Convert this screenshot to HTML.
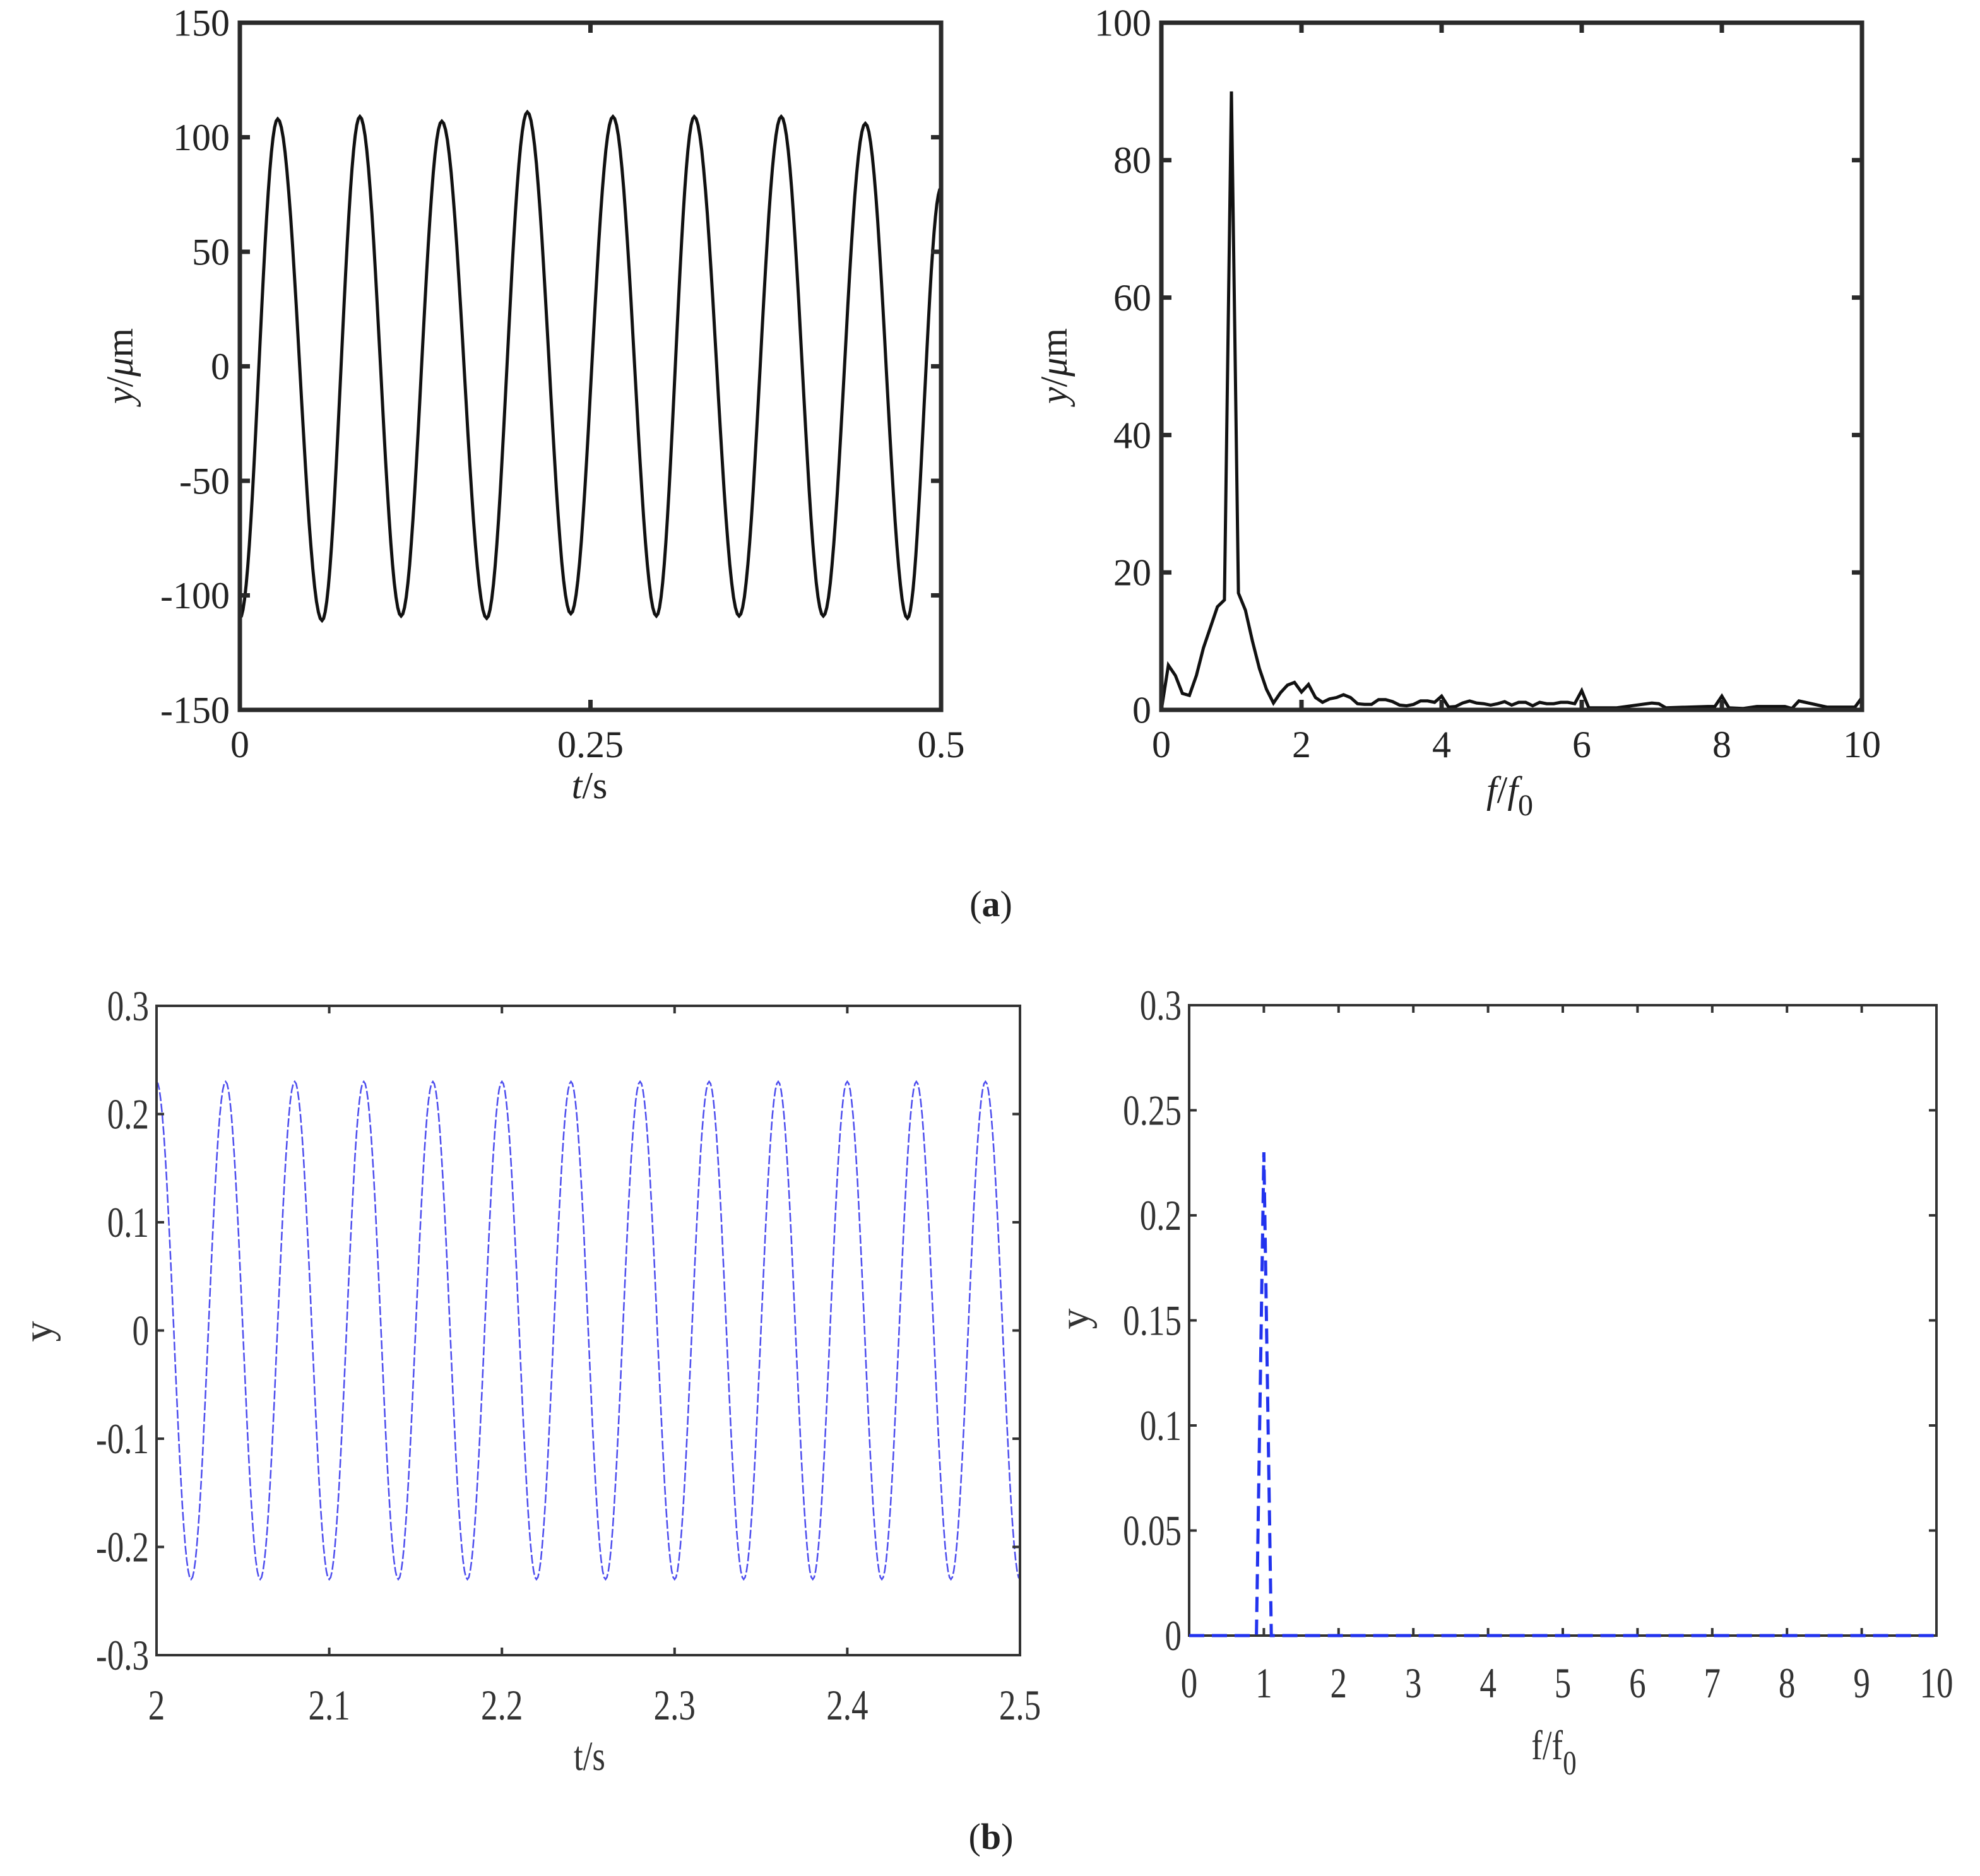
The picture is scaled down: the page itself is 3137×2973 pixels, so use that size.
<!DOCTYPE html>
<html><head><meta charset="utf-8">
<style>
html,body{margin:0;padding:0;background:#fff;}
svg{display:block;}
text{font-family:"Liberation Serif",serif;}
</style></head>
<body>
<svg id="fig" width="3137" height="2973" viewBox="0 0 3137 2973" xmlns="http://www.w3.org/2000/svg"></svg>
<script>
// ---- Panel (a) left: time signal extrema ----
const aTimeExtT = [0,0.027,0.0586,0.0856,0.115,0.144,0.176,0.205,0.236,0.266,0.297,0.324,0.356,0.386,0.416,0.446,0.476,0.5];
const aTimeExtY = [-110,108,-111,109,-109,107,-110,111,-108,109,-109,109,-109,109,-109,106,-110,78];
const aTimeXTicks = [0,0.25,0.5];
const aTimeXLabels = ["0","0.25","0.5"];
const aTimeYTicks = [-150,-100,-50,0,50,100,150];
// ---- Panel (a) right: spectrum ----
const aSpecF = [0,0.1,0.2,0.3,0.4,0.5,0.6,0.7,0.8,0.9,1.0,1.1,1.2,1.3,1.4,1.5,1.6,1.7,1.8,1.9,2.0,2.1,2.2,2.3,2.4,2.5,2.6,2.7,2.8,2.9,3.0,3.1,3.2,3.3,3.4,3.5,3.6,3.7,3.8,3.9,4.0,4.1,4.2,4.3,4.4,4.5,4.6,4.7,4.8,4.9,5.0,5.1,5.2,5.3,5.4,5.5,5.6,5.7,5.8,5.9,6.0,6.1,6.5,7.0,7.1,7.2,7.8,7.9,8.0,8.1,8.3,8.5,8.9,9.0,9.1,9.5,9.9,10];
const aSpecA = [0,6.5,5,2.4,2.1,5,9,12,15,16,90,17,14.5,10,6,3,1,2.5,3.6,4,2.6,3.7,1.8,1.1,1.6,1.8,2.2,1.8,0.9,0.8,0.8,1.5,1.5,1.2,0.7,0.6,0.8,1.3,1.3,1.1,2,0.4,0.5,1,1.3,1,0.9,0.7,0.9,1.2,0.7,1.1,1.1,0.6,1.1,0.9,0.9,1.1,1.1,0.9,2.8,0.3,0.3,1.0,0.9,0.3,0.5,0.5,2,0.3,0.2,0.5,0.5,0.2,1.3,0.4,0.4,1.8];
const aSpecXTicks = [0,2,4,6,8,10];
const aSpecYTicks = [0,20,40,60,80,100];
// ---- Panel (b) left: simulated time signal extrema ----
const bTimeExtT = [2.00,2.02,2.04,2.06,2.08,2.10,2.12,2.14,2.16,2.18,2.20,2.22,2.24,2.26,2.28,2.30,2.32,2.34,2.36,2.38,2.40,2.42,2.44,2.46,2.48,2.50];
const bTimeExtY = [0.23,-0.23,0.23,-0.23,0.23,-0.23,0.23,-0.23,0.23,-0.23,0.23,-0.23,0.23,-0.23,0.23,-0.23,0.23,-0.23,0.23,-0.23,0.23,-0.23,0.23,-0.23,0.23,-0.23];
const bTimeXTicks = [2,2.1,2.2,2.3,2.4,2.5];
const bTimeYTicks = [-0.3,-0.2,-0.1,0,0.1,0.2,0.3];
const bTimeYLabels = ["-0.3","-0.2","-0.1","0","0.1","0.2","0.3"];
// ---- Panel (b) right: simulated spectrum ----
const bSpecF = [0,0.9,1.0,1.1,10];
const bSpecA = [0,0,0.23,0,0];
const bSpecXTicks = [0,1,2,3,4,5,6,7,8,9,10];
const bSpecYTicks = [0,0.05,0.1,0.15,0.2,0.25,0.3];
const bSpecYLabels = ["0","0.05","0.1","0.15","0.2","0.25","0.3"];

const NS="http://www.w3.org/2000/svg";
const svg=document.getElementById('fig');
function mk(tag,attrs,parent){const e=document.createElementNS(NS,tag);for(const k in attrs)e.setAttribute(k,attrs[k]);(parent||svg).appendChild(e);return e;}
function scale(d0,d1,r0,r1){return v=>r0+(v-d0)/(d1-d0)*(r1-r0);}

function axes(g,b,xs,ys,xt,xl,yt,yl,o){
  const fr=mk('rect',{x:b.x0,y:b.y0,width:b.x1-b.x0,height:b.y1-b.y0,fill:'none',stroke:o.axc,'stroke-width':o.aw},g);
  
  
  xt.forEach((v,i)=>{
    const x=xs(v);
    mk('line',{x1:x,y1:b.y1,x2:x,y2:b.y1-o.tl,stroke:o.axc,'stroke-width':o.aw},g);
    mk('line',{x1:x,y1:b.y0,x2:x,y2:b.y0+o.tl,stroke:o.axc,'stroke-width':o.aw},g);
    const t=mk('text',{x:x,y:o.xly,'text-anchor':'middle','font-size':o.fs,fill:o.tc,transform:o.sx?`translate(${x},0) scale(${o.sx},1) translate(${-x},0)`:''},g);
    t.textContent=xl[i];
    
    
  });
  yt.forEach((v,i)=>{
    const y=ys(v);
    mk('line',{x1:b.x0,y1:y,x2:b.x0+o.tl,y2:y,stroke:o.axc,'stroke-width':o.aw},g);
    mk('line',{x1:b.x1,y1:y,x2:b.x1-o.tl,y2:y,stroke:o.axc,'stroke-width':o.aw},g);
    const xx=b.x0-o.ylgap;
    const t=mk('text',{x:xx,y:y+o.fs*0.34,'text-anchor':'end','font-size':o.fs,fill:o.tc,transform:o.sx?`translate(${xx},0) scale(${o.sx},1) translate(${-xx},0)`:''},g);
    t.textContent=yl[i];
    
    
  });
}
function cosPath(T,Y,xs,ys){
  let d=`M${xs(T[0]).toFixed(1)},${ys(Y[0]).toFixed(1)}`;
  for(let i=0;i<T.length-1;i++){
    for(let k=1;k<=24;k++){const u=k/24;const t=T[i]+(T[i+1]-T[i])*u;const v=Y[i]+(Y[i+1]-Y[i])*(1-Math.cos(Math.PI*u))/2;d+=`L${xs(t).toFixed(1)},${ys(v).toFixed(1)}`;}
  }
  return d;
}
function linPath(X,Y,xs,ys){return X.map((x,i)=>(i?'L':'M')+xs(x).toFixed(1)+','+ys(Y[i]).toFixed(1)).join('');}
function label(txt,x,y,fs,opts,name){
  const t=mk('text',Object.assign({x:x,y:y,'font-size':fs,'text-anchor':'middle',fill:'#222'},opts||{}));
  t.innerHTML=txt;
  
  
  return t;
}

// Panel a-left
{
  const g=mk('g',{});
  
  
  const b={x0:380,x1:1491,y0:36,y1:1125};
  const xs=scale(0,0.5,b.x0,b.x1), ys=scale(-150,150,b.y1,b.y0);
  const p=mk('path',{d:cosPath(aTimeExtT,aTimeExtY,xs,ys),fill:'none',stroke:'#111','stroke-width':5},g);
  
  
  axes(g,b,xs,ys,aTimeXTicks,aTimeXLabels,aTimeYTicks,aTimeYTicks.map(String),{axc:'#2a2a2a',aw:7,tl:16,fs:60,tc:'#222',xly:1200,ylgap:16});
  label('<tspan font-style="italic">t</tspan>/s',934,1265,60,{},'x-axis-title');
  label('<tspan font-style="italic">y</tspan>/<tspan font-style="italic">μ</tspan>m',0,0,60,{transform:'translate(210,580) rotate(-90)'},'y-axis-title');
}
// Panel a-right
{
  const g=mk('g',{});
  
  
  const b={x0:1840,x1:2950,y0:36,y1:1125};
  const xs=scale(0,10,b.x0,b.x1), ys=scale(0,100,b.y1,b.y0);
  const p=mk('path',{d:linPath(aSpecF,aSpecA,xs,ys),fill:'none',stroke:'#111','stroke-width':5},g);
  
  
  axes(g,b,xs,ys,aSpecXTicks,aSpecXTicks.map(String),aSpecYTicks,aSpecYTicks.map(String),{axc:'#2a2a2a',aw:7,tl:16,fs:60,tc:'#222',xly:1200,ylgap:16});
  label('<tspan font-style="italic">f</tspan>/<tspan font-style="italic">f</tspan><tspan font-size="48" dy="20">0</tspan>',2392,1272,60,{},'x-axis-title');
  label('<tspan font-style="italic">y</tspan>/<tspan font-style="italic">μ</tspan>m',0,0,60,{transform:'translate(1690,580) rotate(-90)'},'y-axis-title');
}
label('(<tspan font-weight="bold">a</tspan>)',1570,1452,58,{},'caption-a');
// Panel b-left
{
  const g=mk('g',{});
  
  
  const b={x0:248,x1:1616,y0:1594,y1:2623};
  const xs=scale(2,2.5,b.x0,b.x1), ys=scale(-0.3,0.3,b.y1,b.y0);
  const p=mk('path',{d:cosPath(bTimeExtT,bTimeExtY,xs,ys),fill:'none',stroke:'#4d4dee','stroke-width':2.5,'stroke-dasharray':'14,4'},g);
  
  
  axes(g,b,xs,ys,bTimeXTicks,bTimeXTicks.map(String),bTimeYTicks,bTimeYLabels,{axc:'#333',aw:4,tl:12,fs:68,tc:'#333',xly:2725,ylgap:12,sx:0.78});
  label('t/s',934,2805,66,{fill:'#333',transform:'translate(934,0) scale(0.8,1) translate(-934,0)'},'x-axis-title');
  label('y',0,0,66,{fill:'#333',transform:'translate(82,2110) rotate(-90)'},'y-axis-title');
}
// Panel b-right
{
  const g=mk('g',{});
  
  
  const b={x0:1884,x1:3068,y0:1593,y1:2592};
  const xs=scale(0,10,b.x0,b.x1), ys=scale(0,0.3,b.y1,b.y0);
  axes(g,b,xs,ys,bSpecXTicks,bSpecXTicks.map(String),bSpecYTicks,bSpecYLabels,{axc:'#333',aw:4,tl:12,fs:68,tc:'#333',xly:2690,ylgap:12,sx:0.78});
  const p=mk('path',{d:linPath(bSpecF,bSpecA,xs,ys),fill:'none',stroke:'#2233ee','stroke-width':5,'stroke-dasharray':'24,12'},g);
  
  
  label('f/f<tspan font-size="54" dy="24">0</tspan>',2462,2788,66,{fill:'#333',transform:'translate(2462,0) scale(0.8,1) translate(-2462,0)'},'x-axis-title');
  label('y',0,0,66,{fill:'#333',transform:'translate(1724,2090) rotate(-90)'},'y-axis-title');
}
label('(<tspan font-weight="bold">b</tspan>)',1570,2930,58,{},'caption-b');
</script>
</body></html>
